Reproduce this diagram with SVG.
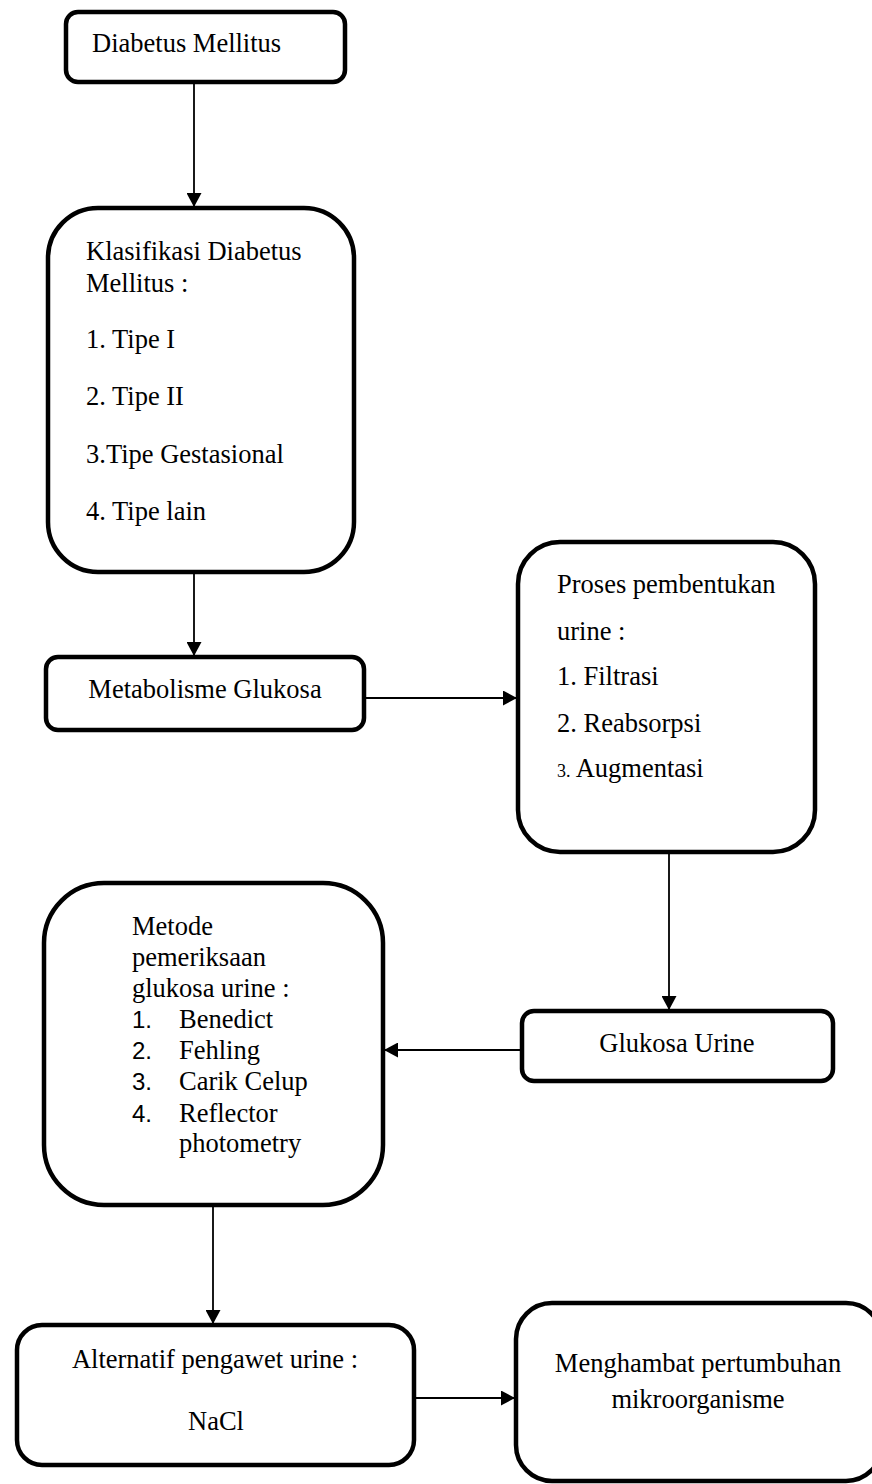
<svg xmlns="http://www.w3.org/2000/svg" width="872" height="1484" viewBox="0 0 872 1484">
<style>
.box{fill:#fff;stroke:#000;stroke-width:4.5}
.t{font-family:"Liberation Serif","Times New Roman",serif;font-size:26.5px;fill:#000}
.n{font-family:"Liberation Sans",Arial,sans-serif;font-size:24px;fill:#000}
.c{text-anchor:middle}
.edge{stroke:#000;stroke-width:1.8;fill:none;marker-end:url(#ah)}
</style>
<defs>
<marker id="ah" markerUnits="userSpaceOnUse" markerWidth="15" markerHeight="15" refX="14" refY="7.5" orient="auto">
<path d="M0,0 L14,7.5 L0,15 Z" fill="#000"/>
</marker>
</defs>
<rect width="872" height="1484" fill="#fff"/>
<g id="connectors">
<line class="edge" x1="194" y1="82" x2="194" y2="207"/>
<line class="edge" x1="194" y1="572" x2="194" y2="656"/>
<line class="edge" x1="364" y1="698" x2="517" y2="698"/>
<line class="edge" x1="669" y1="852" x2="669" y2="1010"/>
<line class="edge" x1="522" y1="1050" x2="384" y2="1050"/>
<line class="edge" x1="213" y1="1205" x2="213" y2="1324"/>
<line class="edge" x1="414" y1="1398" x2="515" y2="1398"/>
</g>
<g id="diabetus">
<rect class="box" x="66" y="12" width="279" height="70" rx="12"/>
<text class="t" x="92" y="52">Diabetus Mellitus</text>
</g>
<g id="klasifikasi">
<rect class="box" x="48" y="208" width="306" height="364" rx="50"/>
<text class="t" x="86" y="260">Klasifikasi Diabetus</text>
<text class="t" x="86" y="292">Mellitus :</text>
<text class="t" x="86" y="348">1. Tipe I</text>
<text class="t" x="86" y="405">2. Tipe II</text>
<text class="t" x="86" y="463">3.Tipe Gestasional</text>
<text class="t" x="86" y="520">4. Tipe lain</text>
</g>
<g id="metabolisme">
<rect class="box" x="46" y="657" width="318" height="73" rx="12"/>
<text class="t c" x="205" y="698">Metabolisme Glukosa</text>
</g>
<g id="proses">
<rect class="box" x="518" y="542" width="297" height="310" rx="42"/>
<text class="t" x="557" y="593">Proses pembentukan</text>
<text class="t" x="557" y="640">urine :</text>
<text class="t" x="557" y="685">1. Filtrasi</text>
<text class="t" x="557" y="732">2. Reabsorpsi</text>
<text class="t" x="557" y="777"><tspan font-size="18">3.</tspan> Augmentasi</text>
</g>
<g id="glukosa-urine">
<rect class="box" x="522" y="1011" width="311" height="70" rx="12"/>
<text class="t c" x="677" y="1052">Glukosa Urine</text>
</g>
<g id="metode">
<rect class="box" x="44" y="883" width="339" height="322" rx="60"/>
<text class="t" x="132" y="935">Metode</text>
<text class="t" x="132" y="966">pemeriksaan</text>
<text class="t" x="132" y="997">glukosa urine :</text>
<text class="n" x="132" y="1028">1.</text>
<text class="t" x="179" y="1028">Benedict</text>
<text class="n" x="132" y="1059">2.</text>
<text class="t" x="179" y="1059">Fehling</text>
<text class="n" x="132" y="1090">3.</text>
<text class="t" x="179" y="1090">Carik Celup</text>
<text class="n" x="132" y="1122">4.</text>
<text class="t" x="179" y="1122">Reflector</text>
<text class="t" x="179" y="1152">photometry</text>
</g>
<g id="alternatif">
<rect class="box" x="17" y="1325" width="397" height="140" rx="25"/>
<text class="t c" x="215" y="1368">Alternatif pengawet urine :</text>
<text class="t c" x="216" y="1430">NaCl</text>
</g>
<g id="menghambat">
<rect class="box" x="516" y="1303" width="366" height="178" rx="36"/>
<text class="t c" x="698" y="1372">Menghambat pertumbuhan</text>
<text class="t c" x="698" y="1408">mikroorganisme</text>
</g>
</svg>
